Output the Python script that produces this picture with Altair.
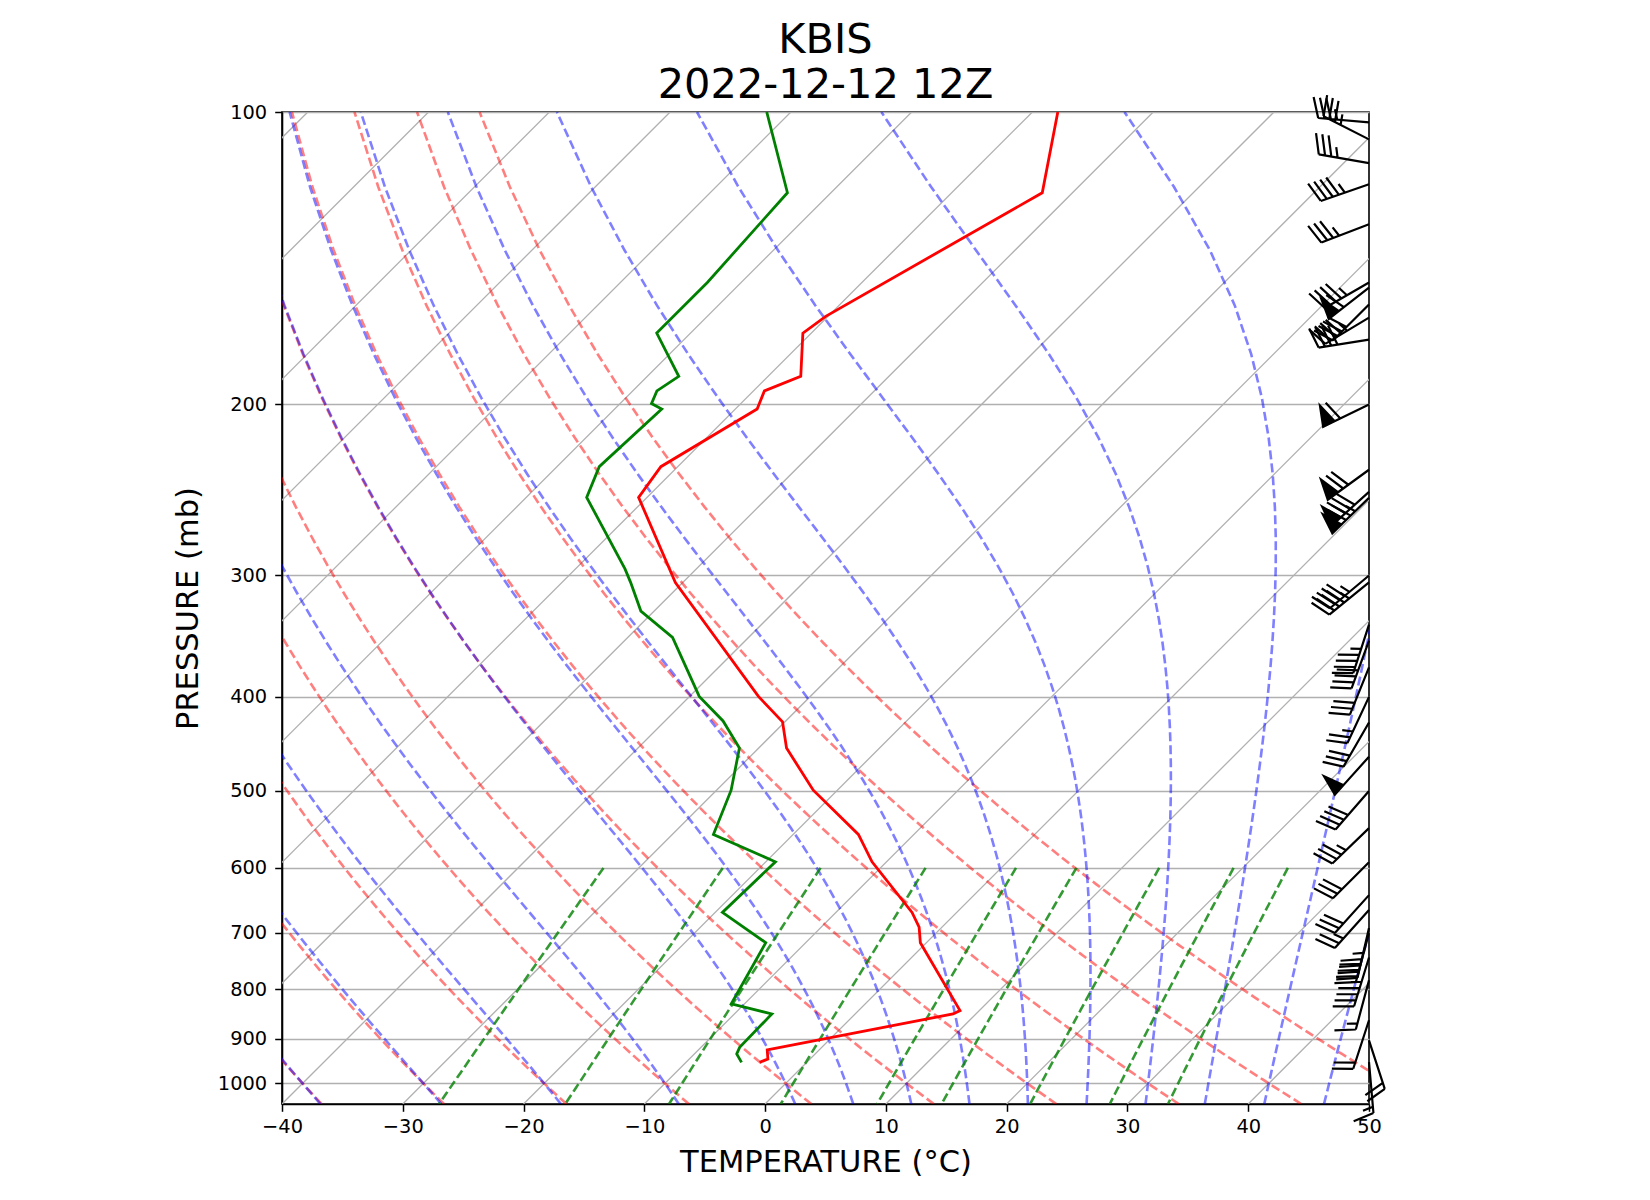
import numpy as np
import pandas as pd
import altair as alt

# ---------------- sounding data ----------------
temp_p = [100, 121.1, 162.3, 168.9, 187.1, 193.7, 202.2, 231.8, 249.3, 305.1,
          399.6, 424.4, 451.6, 499.0, 554.2, 591.4, 666.7, 690.3, 716.4,
          841.4, 848.1, 923.7, 943.7, 951.3]
temp_c = [-57.9, -52.5, -60.2, -60.7, -57.3, -59.1, -58.2, -61.4, -60.7, -50.6,
          -34.3, -30.2, -27.7, -22.0, -14.6, -11.2, -3.7, -1.9, -0.5,
          8.4, 8.1, -4.3, -3.5, -3.9]

dew_p = [100, 121.1, 149.8, 168.9, 187.1, 193.7, 199.6, 202.2, 231.8, 249.3,
         295.4, 305.1, 326.4, 347.4, 399.6, 423.5, 451.6, 499.0, 554.2, 591.4,
         666.7, 716.4, 828.0, 848.1, 918.0, 932.4, 951.3]
dew_c = [-82.0, -73.6, -72.8, -72.8, -67.4, -68.0, -67.4, -66.1, -66.5, -65.0,
         -55.9, -54.3, -51.1, -46.3, -39.2, -35.2, -31.6, -28.8, -26.6, -19.2,
         -19.4, -13.3, -11.1, -6.9, -6.8, -6.5, -5.4]

wind_p = [102.5, 106.7, 112.9, 118.7, 130.5, 149.8, 151.6, 157.8, 162.8, 171.5,
          200.0, 233.5, 246.1, 249.6, 300.0, 305.0, 337.0, 350.0, 373.0, 400.0,
          425.0, 461.0, 500.0, 546.0, 592.0, 640.0, 663.0, 692.0, 700.0, 742.0,
          783.0, 861.0, 903.0, 951.0]
wind_dir = [275, 297, 280, 251, 249, 240, 232, 225, 239, 261,
            244, 234, 228, 226, 230, 231, 198, 200, 202, 205,
            210, 222, 221, 226, 225, 222, 222, 193, 195, 197,
            195, 198, 162, 175]
wind_kt = [35, 35, 35, 45, 35, 45, 60, 40, 45, 40,
           60, 70, 80, 75, 45, 45, 45, 40, 30, 25,
           30, 50, 40, 35, 30, 30, 25, 45, 40, 45,
           15, 20, 20, 15]

# ---------------- diagram reference lines ----------------
isotherm_c = list(range(-130, 51, 10))
dry_t0 = list(range(-40, 51, 10))
moist_t0 = [-40, -30, -20, -10] + list(range(0, 51, 5))
mixing_w = [0.0004, 0.001, 0.002, 0.004, 0.007, 0.01, 0.016, 0.024, 0.032]

P_BOTTOM, P_TOP = 1050.0, 100.0
T_LEFT, T_RIGHT = -40, 50

# plot area size (px) and 45-degree skew factor (degC per decade of pressure)
W, H = 1087, 992
K = (H / np.log10(P_BOTTOM / P_TOP)) / (W / (T_RIGHT - T_LEFT))

# thermodynamic constants
Rd = 287.04749097718457
Lv = 2.50084e6
Cpd = 1004.6662184201462
EPS = 0.6219569100577033


def sat_vp(tk):
    return 6.112 * np.exp(17.67 * (tk - 273.15) / (tk - 29.65))


def dtdp(p, t):
    e = sat_vp(t)
    rs = EPS * e / (p - e)
    frac = (Rd * t + Lv * rs) / (Cpd + Lv * Lv * rs * EPS / (Rd * t * t))
    return frac / p


def moist_lapse(t0c, plev, pref=1000.0):
    t0 = np.asarray(t0c, float) + 273.15
    out = np.zeros((len(t0), len(plev)))
    for j, pt in enumerate(plev):
        n = max(20, int(abs(pt - pref) / 2))
        h = (pt - pref) / n
        t = t0.copy()
        p = pref
        for _ in range(n):
            k1 = dtdp(p, t)
            k2 = dtdp(p + h / 2, t + h / 2 * k1)
            k3 = dtdp(p + h / 2, t + h / 2 * k2)
            k4 = dtdp(p + h, t + h * k3)
            t = t + h / 6 * (k1 + 2 * k2 + 2 * k3 + k4)
            p += h
        out[:, j] = t - 273.15
    return out


plev = np.linspace(P_BOTTOM, P_TOP, 50)

rows = []
for t in isotherm_c:
    for i, p in enumerate([P_BOTTOM, P_TOP]):
        rows.append(dict(line=f"iso{t}", i=i, p=p, T=t))
iso_df = pd.DataFrame(rows)

rows = []
for t0 in dry_t0:
    tt = (t0 + 273.15) * (plev / 1000.0) ** (Rd / Cpd) - 273.15
    for i, (p, t) in enumerate(zip(plev, tt)):
        rows.append(dict(line=f"dry{t0}", i=i, p=p, T=t))
dry_df = pd.DataFrame(rows)

rows = []
mt = moist_lapse(moist_t0, plev)
for k, t0 in enumerate(moist_t0):
    for i, p in enumerate(plev):
        rows.append(dict(line=f"moist{t0}", i=i, p=p, T=mt[k, i]))
moist_df = pd.DataFrame(rows)

rows = []
pmix = np.linspace(600, P_BOTTOM, 50)
for w in mixing_w:
    e = pmix * w / (EPS + w)
    val = np.log(e / 6.112)
    td = 243.5 * val / (17.67 - val)
    for i, (p, t) in enumerate(zip(pmix, td)):
        rows.append(dict(line=f"w{w}", i=i, p=p, T=t))
mix_df = pd.DataFrame(rows)

temp_df = pd.DataFrame(dict(i=range(len(temp_p)), p=temp_p, T=temp_c))
dew_df = pd.DataFrame(dict(i=range(len(dew_p)), p=dew_p, T=dew_c))


def barb_path(spd):
    h, w, s = 0.4, 0.25, 0.125
    mag = 5 * round(spd / 5)
    nflag = int(mag // 50)
    nbarb = int((mag % 50) // 10)
    half = (mag % 10) >= 5
    parts = ["M0,0L0,-1"]
    off = 1.0
    for _ in range(nflag):
        if off != 1.0:
            off += s / 2
        parts.append(f"M0,{-off:.4f}L{h},{-(off - w / 2):.4f}L0,{-(off - w):.4f}Z")
        off -= w + s
    for _ in range(nbarb):
        parts.append(f"M0,{-off:.4f}L{h},{-(off + w / 2):.4f}")
        off -= s
    if half:
        if off == 1.0:
            off -= 1.5 * s
        parts.append(f"M0,{-off:.4f}L{h / 2},{-(off + w / 4):.4f}")
    return "".join(parts)


barb_df = pd.DataFrame(dict(p=wind_p, dir=wind_dir, spd=wind_kt))
barb_df["shape"] = [barb_path(s) for s in wind_kt]

# ---------------- chart ----------------
FONT = "DejaVu Sans"
skew = f"datum.T + {K:.6f} * log({P_BOTTOM} / datum.p) / LN10"

xscale = alt.Scale(domain=[T_LEFT, T_RIGHT], nice=False, zero=False)
yscale = alt.Scale(type="log", domain=[P_TOP, P_BOTTOM], reverse=True, nice=False)
xaxis = alt.Axis(values=list(range(-40, 51, 10)), format="d", grid=False,
                 labelFlush=False, labelOverlap=False,
                 title="TEMPERATURE (°C)", titleFontSize=30.5, titlePadding=12,
                 labelFontSize=19.4, labelPadding=6, tickSize=7.3, tickWidth=1.5)
yaxis = alt.Axis(values=[100, 200, 300, 400, 500, 600, 700, 800, 900, 1000],
                 format="d", grid=True, gridColor="#b0b0b0", gridWidth=1.6,
                 labelFlush=False, labelOverlap=False,
                 title="PRESSURE (mb)", titleFontSize=30.5, titlePadding=14,
                 labelFontSize=19.4, labelPadding=8, tickSize=7.3, tickWidth=1.5)

X = alt.X("xs:Q", scale=xscale, axis=xaxis)
Y = alt.Y("p:Q", scale=yscale, axis=yaxis)


def lines(df, color, opacity, width, dash=None, detail=True):
    kw = dict(color=color, opacity=opacity, strokeWidth=width, clip=True)
    if dash:
        kw["strokeDash"] = dash
    enc = dict(x=X, y=Y, order=alt.Order("i:Q"))
    if detail:
        enc["detail"] = "line:N"
    return (alt.Chart(df).transform_calculate(xs=skew)
            .mark_line(**kw).encode(**enc))


DASH = [9, 4]
iso_layer = lines(iso_df, "#b0b0b0", 1, 1.3)
dry_layer = lines(dry_df, "#ff0000", 0.5, 2.6, DASH)
moist_layer = lines(moist_df, "#0000ff", 0.5, 2.6, DASH)
mix_layer = lines(mix_df, "#008000", 0.8, 2.6, DASH)
temp_layer = lines(temp_df, "#ff0000", 1, 2.8, detail=False)
dew_layer = lines(dew_df, "#008000", 1, 2.8, detail=False)

L = 51.0
barb_layer = (alt.Chart(barb_df)
              .transform_calculate(xs=str(T_RIGHT))
              .mark_point(filled=True, fill="black", stroke="black", strokeWidth=2.2,
                          opacity=1, strokeJoin="miter", clip=False)
              .encode(x=X, y=Y,
                      shape=alt.Shape("shape:N", scale=None, legend=None),
                      angle=alt.Angle("dir:Q", scale=None),
                      size=alt.value(4 * L * L)))

chart = (alt.layer(iso_layer, dry_layer, moist_layer, mix_layer,
                   temp_layer, dew_layer, barb_layer)
         .properties(width=W, height=H,
                     title=alt.TitleParams(text=["KBIS", "2022-12-12 12Z"],
                                           fontSize=41.5, font=FONT,
                                           fontWeight="normal", color="black",
                                           anchor="middle", lineHeight=45.7,
                                           offset=8, dy=24),
                     autosize=alt.AutoSizeParams(type="none"),
                     padding={"left": 282, "top": 112, "right": 281, "bottom": 96})
         .configure_view(stroke="black", strokeWidth=1.6)
         .configure_axis(labelFont=FONT, titleFont=FONT, labelColor="black",
                         titleColor="black", titleFontWeight="normal",
                         domainColor="black", domainWidth=1.6, tickColor="black"))

chart.save("out.html", embed_options={"renderer": "svg", "actions": False})
